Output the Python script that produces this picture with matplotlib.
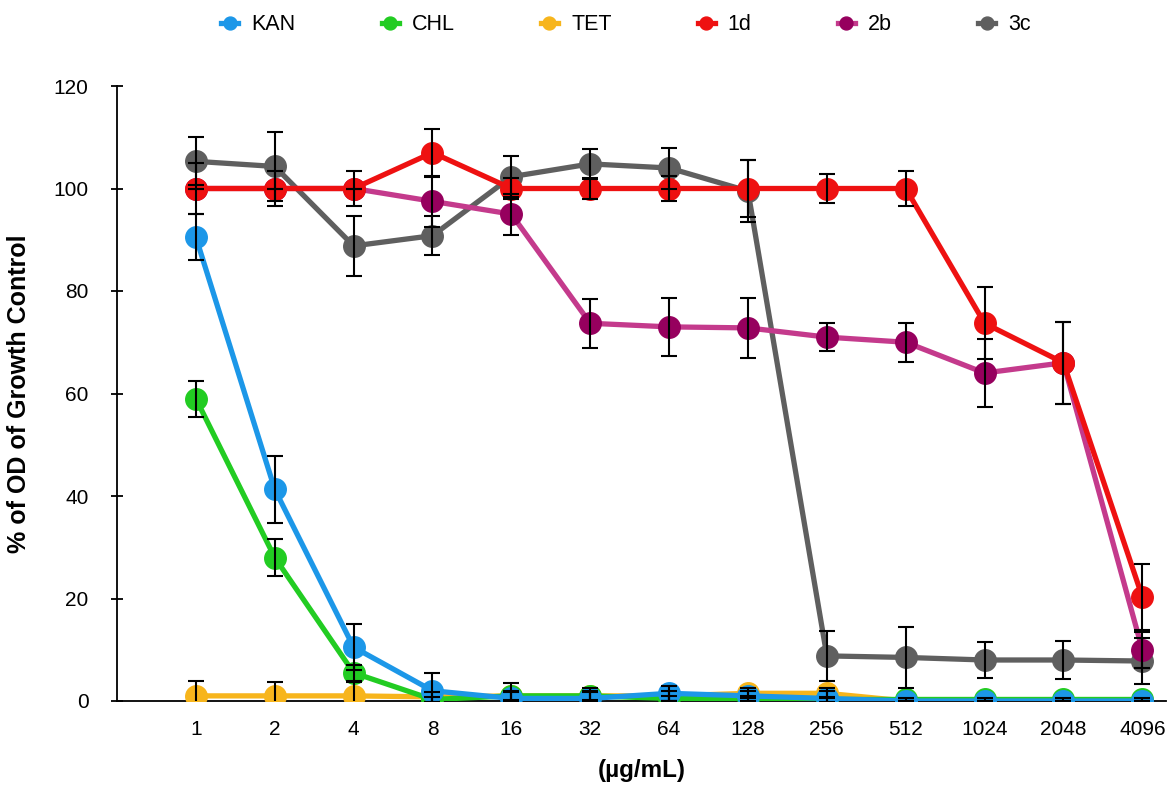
import matplotlib.pyplot as plt
import numpy as np

plt.rcParams['font.family'] = ['Liberation Sans', 'DejaVu Sans']

conc = ["1", "2", "4", "8", "16", "32", "64", "128", "256", "512", "1024", "2048", "4096"]

kan = [90.5, 41.3, 10.5, 2.0, 0.5, 0.5, 1.5, 1.0, 0.5, 0, 0, 0, 0]
kan_err = [4.5, 6.5, 4.5, 3.5, 3.0, 2.0, 1.5, 1.0, 1.5, 0, 0, 0, 0]
chl = [59.0, 28.0, 5.5, 0.3, 1.0, 1.0, 0.5, 0.5, 0.3, 0.3, 0.3, 0.3, 0.3]
chl_err = [3.5, 3.7, 1.5, 0.5, 0.8, 0.8, 0.5, 0.5, 0.5, 0.3, 0.3, 0.3, 0.3]
tet = [1.0, 1.0, 1.0, 0.8, 1.0, 1.0, 1.0, 1.5, 1.5, 0, 0, 0, 0]
tet_err = [3.0, 2.7, 2.8, 1.0, 1.0, 1.0, 1.0, 1.0, 1.0, 0, 0, 0, 0]
d1 = [100, 100, 100, 107, 100, 100, 100, 100, 100, 100, 73.7, 66.0, 20.3]
d1_err = [5.0, 3.5, 3.5, 4.7, 2.0, 2.0, 2.5, 5.5, 2.8, 3.5, 7.0, 8.0, 6.5]
b2 = [100, 100, 100, 97.5, 95.0, 73.7, 73.0, 72.8, 71.0, 70.0, 64.0, 66.0, 10.0]
b2_err = [0, 0, 0, 5.0, 4.0, 4.8, 5.7, 5.8, 2.8, 3.8, 6.7, 8.0, 3.5]
c3 = [105.3, 104.3, 88.8, 90.8, 102.3, 104.8, 104.0, 99.5, 8.8, 8.5, 8.0, 8.0, 7.8]
c3_err = [4.7, 6.7, 5.8, 3.8, 4.0, 3.0, 4.0, 6.0, 4.9, 6.0, 3.5, 3.8, 4.5]

series = [
    ("3c", c3, c3_err, "#5f5f5f", "#5f5f5f"),
    ("2b", b2, b2_err, "#c43a8c", "#96005e"),
    ("1d", d1, d1_err, "#ee1111", "#ee1111"),
    ("TET", tet, tet_err, "#f7b51c", "#f7b51c"),
    ("CHL", chl, chl_err, "#22cc22", "#22cc22"),
    ("KAN", kan, kan_err, "#1c97e8", "#1c97e8"),
]
legend_order = ["KAN", "CHL", "TET", "1d", "2b", "3c"]

fig = plt.figure(figsize=(11.72, 7.89), dpi=100)
ax = fig.add_axes([117 / 1172, 1 - 701 / 789, (1166 - 117) / 1172, (701 - 86) / 789])

x = np.arange(len(conc))
handles = {}
for name, y, err, lc, mc in series:
    h, = ax.plot(x, y, '-o', color=lc, mfc=mc, mec=mc, lw=3.8, ms=15.5, label=name, zorder=2)
    ax.errorbar(x, y, yerr=err, fmt='none', ecolor='black', elinewidth=1.5,
                capsize=6, capthick=1.5, zorder=3)
    handles[name] = h

ax.set_xlim(-1, 12.3)
ax.set_ylim(0, 120)
ax.set_yticks(np.arange(0, 121, 20))
ax.set_xticks(x)
ax.set_xticklabels(conc)
ax.tick_params(axis='y', direction='inout', length=9, width=1.3, labelsize=15, pad=16)
ax.tick_params(axis='x', length=0, labelsize=15, pad=14)
for s in ['top', 'right']:
    ax.spines[s].set_visible(False)
for s in ['left', 'bottom']:
    ax.spines[s].set_linewidth(1.3)
ax.spines['bottom'].set_zorder(1)

ax.set_ylabel("% of OD of Growth Control", fontsize=18, fontweight='bold', labelpad=16)
ax.set_xlabel("(µg/mL)", fontsize=17.5, fontweight='bold', labelpad=14)

leg = fig.legend([handles[n] for n in legend_order], legend_order, loc='center',
                 bbox_to_anchor=(0.5 + 40 / 1172, 1 - 25 / 789), ncol=6, frameon=False,
                 fontsize=15.5, handlelength=0.8, columnspacing=4.0, handletextpad=0.6,
                 markerscale=0.6)

fig.savefig("out.png", dpi=100)
